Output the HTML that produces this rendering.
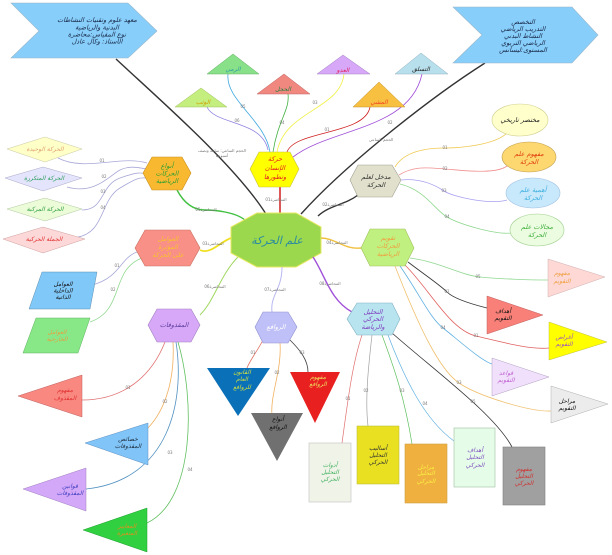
<!DOCTYPE html>
<html><head><meta charset="utf-8"><style>
html,body{margin:0;padding:0;background:#fff;}
svg{display:block}
text{font-family:"DejaVu Sans",sans-serif;font-style:italic;text-anchor:middle;direction:rtl}
.s{font-size:6px;letter-spacing:0.7px}
.m{font-size:6.5px;letter-spacing:0.6px}
.l{font-size:4px;fill:#777;font-style:normal}
.c{fill:none}
</style></head><body>
<svg width="612" height="555" viewBox="0 0 612 555" xmlns="http://www.w3.org/2000/svg">
<rect width="612" height="555" fill="#fff"/>

<!-- main long lines -->
<path class="c" d="M116,59 C160,100 235,165 266,214" stroke="#333" stroke-width="1.4"/>
<path class="c" d="M485,63 C430,98 345,165 301,214" stroke="#333" stroke-width="1.4"/>
<text class="l" x="222" y="152">الحجم الساعي: ساعة ونصف</text>
<text class="l" x="222" y="157">أسبوعيا</text>
<text class="l" x="381" y="141">الحجم الساعي</text>

<!-- chevrons -->
<polygon points="11,3 128,3 157,31 128,58 11,58 39,31" fill="#87cefa" stroke="#9ab8cc" stroke-width="0.6"/>
<text class="m" x="97" y="22" fill="#1a2a4a">معهد علوم وتقنيات النشاطات</text>
<text class="m" x="97" y="29.5" fill="#1a2a4a">البدنية والرياضية</text>
<text class="m" x="97" y="36.5" fill="#1a2a4a">نوع المقياس:محاضرة</text>
<text class="m" x="97" y="43.5" fill="#1a2a4a">الأستاذ: وكال عادل</text>

<polygon points="453,7 572,7 598,35 572,63 453,63 482,35" fill="#87cefa" stroke="#9ab8cc" stroke-width="0.6"/>
<text class="m" x="523" y="24" fill="#1a2a4a">التخصص</text>
<text class="m" x="523" y="31" fill="#1a2a4a">التدريب الرياضي</text>
<text class="m" x="523" y="38" fill="#1a2a4a">النشاط البدني</text>
<text class="m" x="523" y="45" fill="#1a2a4a">الرياضي التربوي</text>
<text class="m" x="523" y="52" fill="#1a2a4a">المستوى:ليسانس</text>

<!-- top connectors from yellow hexagon -->
<path class="c" d="M270,152 C265,120 225,100 228,74" stroke="#40a8e0" stroke-width="0.8"/>
<path class="c" d="M273,152 C278,120 290,110 288,94" stroke="#40b040" stroke-width="0.8"/>
<path class="c" d="M277,152 C285,110 340,110 344,74" stroke="#f0f040" stroke-width="0.8"/>
<path class="c" d="M268,150 C262,120 215,125 207,107" stroke="#9080e0" stroke-width="0.8"/>
<path class="c" d="M287,152 C295,130 365,135 370,107" stroke="#d02020" stroke-width="0.8"/>
<path class="c" d="M293,157 C330,128 410,130 422,74" stroke="#a050d8" stroke-width="0.8"/>
<text class="l" x="243" y="108">05</text>
<text class="l" x="282" y="124">04</text>
<text class="l" x="315" y="104">03</text>
<text class="l" x="237" y="122">06</text>
<text class="l" x="327" y="131">01</text>
<text class="l" x="390" y="124">02</text>

<!-- top triangles -->
<polygon points="201,88 175,107 227,107" fill="#c4ee7e" stroke="#a0c060" stroke-width="0.5"/>
<text class="s" x="203" y="104" fill="#d0a000">الوثب</text>
<polygon points="233,54 207,74 259,74" fill="#88e088" stroke="#60b060" stroke-width="0.5"/>
<text class="s" x="233" y="71" fill="#30a0a0">الرمي</text>
<polygon points="284,74 257,94 310,94" fill="#f08880" stroke="#c06060" stroke-width="0.5"/>
<text class="s" x="283" y="91" fill="#208040">الحجل</text>
<polygon points="343,55 317,74 370,74" fill="#d8a8f8" stroke="#a080c0" stroke-width="0.5"/>
<text class="s" x="343" y="72" fill="#e02060">العدو</text>
<polygon points="421,53 395,74 448,74" fill="#b8e0ec" stroke="#90b0c0" stroke-width="0.5"/>
<text class="s" x="421" y="71" fill="#222">التسلق</text>
<polygon points="379,82 353,107 405,107" fill="#f8c040" stroke="#c09030" stroke-width="0.5"/>
<text class="s" x="379" y="104" fill="#f04020">المشي</text>

<!-- yellow hexagon -->
<path class="c" d="M280,187 L280,213" stroke="#d02020" stroke-width="1.5"/>
<text class="l" x="276" y="201">المحاضرة01</text>
<polygon points="250,169 259,152 290,152 299,169 290,187 259,187" fill="#ffff00" stroke="#c8c040" stroke-width="0.6"/>
<text class="m" x="275" y="161" fill="#e02020">حركة</text>
<text class="m" x="275" y="170" fill="#e02020">الإنسان</text>
<text class="m" x="275" y="179" fill="#e02020">وتطورها</text>

<!-- beige hexagon and ellipses -->
<path class="c" d="M358,195 C345,205 330,205 318,216" stroke="#333" stroke-width="1.4"/>
<text class="l" x="333" y="206">المحاضرة02</text>
<path class="c" d="M395,167 C405,150 430,148 445,148 S495,145 507,133" stroke="#f0c850" stroke-width="0.8"/>
<path class="c" d="M399,175 C415,165 430,168 445,169 S495,175 507,166" stroke="#f09090" stroke-width="0.8"/>
<path class="c" d="M401,180 C420,178 435,185 444,191 S490,205 507,200" stroke="#a8a0f0" stroke-width="0.8"/>
<path class="c" d="M400,184 C425,190 435,210 447,217 S495,235 512,233" stroke="#90d890" stroke-width="0.8"/>
<text class="l" x="445" y="149">01</text>
<text class="l" x="445" y="170">02</text>
<text class="l" x="444" y="192">03</text>
<text class="l" x="447" y="218">04</text>
<polygon points="350,180 358,165 392,165 401,180 392,197 358,197" fill="#e0e0cc" stroke="#a0a090" stroke-width="0.6"/>
<text class="m" x="376" y="179" fill="#333">مدخل لعلم</text>
<text class="m" x="376" y="187" fill="#333">الحركة</text>

<ellipse cx="520" cy="120" rx="28" ry="16" fill="#ffffcc" stroke="#d0d090" stroke-width="0.6"/>
<text class="m" x="520" y="122" fill="#222">مختصر تاريخي</text>
<ellipse cx="529" cy="157" rx="27" ry="15" fill="#fdd870" stroke="#c0a050" stroke-width="0.6"/>
<text class="m" x="529" y="156" fill="#e04010">مفهوم علم</text>
<text class="m" x="529" y="164" fill="#e04010">الحركة</text>
<ellipse cx="533" cy="193" rx="27" ry="15" fill="#c8e8fc" stroke="#a0c0e0" stroke-width="0.6"/>
<text class="m" x="533" y="192" fill="#40b0e0">أهمية علم</text>
<text class="m" x="533" y="200" fill="#40b0e0">الحركة</text>
<ellipse cx="537" cy="230" rx="27" ry="16" fill="#ecfce0" stroke="#a0d090" stroke-width="0.6"/>
<text class="m" x="537" y="229" fill="#40b040">مجالات علم</text>
<text class="m" x="537" y="237" fill="#40b040">الحركة</text>

<!-- left diamonds -->
<path class="c" d="M58,158 C85,172 120,155 147,163" stroke="#a8a8d8" stroke-width="0.8"/>
<path class="c" d="M67,187 C95,195 110,175 120,170 S140,168 147,169" stroke="#a8a8d8" stroke-width="0.8"/>
<path class="c" d="M82,210 C105,210 100,185 120,178 S140,173 147,174" stroke="#a8a8d8" stroke-width="0.8"/>
<path class="c" d="M78,237 C105,232 100,200 120,188 S140,178 147,178" stroke="#a8a8d8" stroke-width="0.8"/>
<text class="l" x="102" y="162">01</text>
<text class="l" x="104" y="178">02</text>
<text class="l" x="103" y="193">03</text>
<text class="l" x="103" y="209">04</text>
<polygon points="7,149 45,137 82,149 45,162" fill="#ffffc8" stroke="#c8c8a0" stroke-width="0.5"/>
<text class="s" x="45" y="151" fill="#e0a070">الحركة الوحيدة</text>
<polygon points="5,178 43,167 82,178 43,191" fill="#e4e4fc" stroke="#a8a8c8" stroke-width="0.5"/>
<text class="s" x="44" y="180" fill="#30a060">الحركة المتكررة</text>
<polygon points="7,209 45,198 82,209 45,221" fill="#ecfcd8" stroke="#b0c8a0" stroke-width="0.5"/>
<text class="s" x="45" y="211" fill="#30a040">الحركة المركبة</text>
<polygon points="3,239 43,227 85,239 43,253" fill="#fdd8d8" stroke="#d0a0a0" stroke-width="0.5"/>
<text class="s" x="44" y="241" fill="#e03030">الجملة الحركية</text>

<!-- orange hexagon -->
<path class="c" d="M177,190 C185,205 195,210 205,210 S235,212 245,220" stroke="#40c040" stroke-width="1.4"/>
<text class="l" x="206" y="211">المحاضرة05</text>
<polygon points="143,173 152,157 182,157 191,173 182,190 152,190" fill="#f8b830" stroke="#c89020" stroke-width="0.6"/>
<text class="m" x="167" y="168" fill="#30a030">أنواع</text>
<text class="m" x="167" y="175.5" fill="#30a030">الحركات</text>
<text class="m" x="167" y="183" fill="#30a030">الرياضية</text>

<!-- salmon hexagon -->
<path class="c" d="M200,250 C210,255 220,242 231,238" stroke="#f0e020" stroke-width="1.8"/>
<text class="l" x="213" y="245">المحاضرة03</text>
<path class="c" d="M137,252 C120,258 120,278 92,285" stroke="#a8a8d8" stroke-width="0.8"/>
<path class="c" d="M142,258 C110,270 125,310 90,322" stroke="#90d890" stroke-width="0.8"/>
<text class="l" x="117" y="267">01</text>
<text class="l" x="113" y="291">02</text>
<polygon points="135,248 145,230 190,230 200,248 190,266 145,266" fill="#f89088" stroke="#c87060" stroke-width="0.6"/>
<text class="m" x="168" y="241" fill="#f8c030">العوامل</text>
<text class="m" x="168" y="249" fill="#f8c030">المؤثرة</text>
<text class="m" x="168" y="257" fill="#f8c030">على الحركة</text>

<!-- parallelograms -->
<polygon points="42,272 97,272 90,309 29,309" fill="#80c8f8" stroke="#6090b0" stroke-width="0.5"/>
<text class="s" x="63" y="286" fill="#111">العوامل</text>
<text class="s" x="63" y="292.5" fill="#111">الداخلية</text>
<text class="s" x="63" y="299" fill="#111">الذاتية</text>
<polygon points="36,318 90,318 78,353 23,353" fill="#88e888" stroke="#60b060" stroke-width="0.5"/>
<text class="s" x="57" y="334" fill="#e8a040">العوامل</text>
<text class="s" x="57" y="341" fill="#e8a040">الخارجية</text>

<!-- purple hexagon -->
<path class="c" d="M200,315 C215,300 220,275 238,257" stroke="#a0d860" stroke-width="1"/>
<text class="l" x="215" y="288">المحاضرة06</text>
<path class="c" d="M165,342 C150,380 120,400 82,400" stroke="#e07070" stroke-width="0.8"/>
<path class="c" d="M173,342 C175,380 165,410 148,428" stroke="#f0b060" stroke-width="0.8"/>
<path class="c" d="M176,342 C185,400 170,480 86,489" stroke="#5090c0" stroke-width="0.8"/>
<path class="c" d="M178,342 C195,400 195,500 147,523" stroke="#60c060" stroke-width="0.8"/>
<text class="l" x="128" y="389">01</text>
<text class="l" x="165" y="403">02</text>
<text class="l" x="170" y="454">03</text>
<text class="l" x="190" y="471">04</text>
<polygon points="148,325 157,309 191,309 200,325 191,342 157,342" fill="#d8a8f8" stroke="#a080c0" stroke-width="0.6"/>
<text class="m" x="174" y="327" fill="#6040a0">المقذوفات</text>

<polygon points="82,375 82,417 18,396" fill="#f88880" stroke="#c06060" stroke-width="0.5"/>
<text class="s" x="65" y="392" fill="#e03030">مفهوم</text>
<text class="s" x="65" y="400" fill="#e03030">المقذوف</text>
<polygon points="148,423 148,465 85,443" fill="#80c4f8" stroke="#6090c0" stroke-width="0.5"/>
<text class="s" x="128" y="441" fill="#203040">خصائص</text>
<text class="s" x="128" y="448" fill="#203040">المقذوفات</text>
<polygon points="86,468 86,511 23,489" fill="#d4a8f8" stroke="#a080c0" stroke-width="0.5"/>
<text class="s" x="70" y="488" fill="#4040c0">قوانين</text>
<text class="s" x="70" y="495" fill="#4040c0">المقذوفات</text>
<polygon points="147,508 147,552 83,530" fill="#30d040" stroke="#20a030" stroke-width="0.5"/>
<text class="s" x="127" y="528" fill="#e09020">المعايير</text>
<text class="s" x="127" y="535" fill="#e09020">المتغيرة</text>

<!-- center octagon -->
<polygon points="257,213 296,213 321,227 321,253 296,267 257,267 231,253 231,227" fill="#9bd84e" stroke="#e8e860" stroke-width="1"/>
<text x="277" y="244" font-size="11" fill="#2a8aa0" style="letter-spacing:1.2px">علم الحركة</text>

<!-- lavender hexagon (levers) -->
<path class="c" d="M282,267 C282,290 270,295 272,312" stroke="#b8b8f0" stroke-width="1"/>
<text class="l" x="275" y="291">المحاضرة07</text>
<path class="c" d="M263,340 C258,350 250,360 247,368" stroke="#e07060" stroke-width="0.8"/>
<path class="c" d="M280,343 C282,370 270,395 272,415" stroke="#f0b060" stroke-width="0.8"/>
<path class="c" d="M290,340 C300,350 308,360 308,372" stroke="#404040" stroke-width="0.8"/>
<text class="l" x="253" y="354">01</text>
<text class="l" x="277" y="374">02</text>
<text class="l" x="302" y="354">03</text>
<polygon points="255,327 263,312 288,312 297,327 288,343 263,343" fill="#c0c0f8" stroke="#9090d0" stroke-width="0.6"/>
<text class="m" x="276" y="329" fill="#fff">الروافع</text>

<polygon points="207,368 270,368 238,416" fill="#0a70b8"/>
<text class="s" x="242" y="374" fill="#d0e040">القانون</text>
<text class="s" x="242" y="381" fill="#d0e040">العام</text>
<text class="s" x="242" y="389" fill="#d0e040">للروافع</text>
<polygon points="251,413 303,413 277,461" fill="#707070"/>
<text class="s" x="278" y="421" fill="#111">أنواع</text>
<text class="s" x="278" y="429" fill="#111">الروافع</text>
<polygon points="290,372 340,372 315,423" fill="#e82020"/>
<text class="s" x="318" y="379" fill="#f0e060">مفهوم</text>
<text class="s" x="318" y="386" fill="#f0e060">الروافع</text>

<!-- analysis hexagon -->
<path class="c" d="M313,257 C325,275 330,300 352,312" stroke="#a050d8" stroke-width="1.4"/>
<text class="l" x="330" y="285">المحاضرة08</text>
<path class="c" d="M362,335 C352,365 348,400 342,443" stroke="#e07070" stroke-width="0.7"/>
<path class="c" d="M372,335 C368,370 365,400 368,426" stroke="#a0a0a0" stroke-width="0.7"/>
<path class="c" d="M382,335 C395,370 405,400 412,444" stroke="#60c060" stroke-width="0.7"/>
<path class="c" d="M388,335 C405,380 425,420 454,441" stroke="#60b0e0" stroke-width="0.7"/>
<path class="c" d="M392,333 C440,375 495,415 512,447" stroke="#333" stroke-width="0.8"/>
<text class="l" x="348" y="400">01</text>
<text class="l" x="366" y="392">02</text>
<text class="l" x="402" y="392">03</text>
<text class="l" x="425" y="405">04</text>
<text class="l" x="473" y="403">05</text>
<polygon points="347,319 357,303 392,303 400,319 392,335 357,335" fill="#b8e4f0" stroke="#80b0c0" stroke-width="0.6"/>
<text class="m" x="373" y="314" fill="#8040c0">التحليل</text>
<text class="m" x="373" y="321" fill="#8040c0">الحركي</text>
<text class="m" x="373" y="329" fill="#8040c0">والرياضة</text>

<rect x="309" y="443" width="42" height="59" fill="#f0f4e8" stroke="#c0c0c0" stroke-width="0.6"/>
<text class="s" x="330" y="467" fill="#40b060">أدوات</text>
<text class="s" x="330" y="474" fill="#40b060">التحليل</text>
<text class="s" x="330" y="481" fill="#40b060">الحركي</text>
<rect x="357" y="426" width="42" height="58" fill="#e8e020" stroke="#c0c040" stroke-width="0.6"/>
<text class="s" x="378" y="450" fill="#333">أساليب</text>
<text class="s" x="378" y="457" fill="#333">التحليل</text>
<text class="s" x="378" y="464" fill="#333">الحركي</text>
<rect x="405" y="444" width="42" height="59" fill="#f0b040" stroke="#d0a040" stroke-width="0.6"/>
<text class="s" x="426" y="469" fill="#f8f040">مراحل</text>
<text class="s" x="426" y="475" fill="#f8f040">التحليل</text>
<text class="s" x="426" y="483" fill="#f8f040">الحركي</text>
<rect x="454" y="428" width="41" height="59" fill="#e4fce8" stroke="#a0c0a0" stroke-width="0.6"/>
<text class="s" x="475" y="452" fill="#8050c0">أهداف</text>
<text class="s" x="475" y="459" fill="#8050c0">التحليل</text>
<text class="s" x="475" y="467" fill="#8050c0">الحركي</text>
<rect x="503" y="447" width="42" height="58" fill="#a0a0a0" stroke="#808080" stroke-width="0.6"/>
<text class="s" x="524" y="471" fill="#d03030">مفهوم</text>
<text class="s" x="524" y="478" fill="#d03030">التحليل</text>
<text class="s" x="524" y="485" fill="#d03030">الحركي</text>

<!-- evaluation hexagon -->
<path class="c" d="M321,238 C335,238 345,250 361,248" stroke="#f0c040" stroke-width="1.4"/>
<text class="l" x="337" y="244">المحاضرة04</text>
<path class="c" d="M410,258 C440,262 460,275 480,277 S530,280 548,280" stroke="#90d890" stroke-width="0.8"/>
<path class="c" d="M408,262 C425,275 440,285 447,292 S475,305 487,308" stroke="#333" stroke-width="0.8"/>
<path class="c" d="M405,265 C430,290 450,330 476,336 S530,350 549,348" stroke="#e06060" stroke-width="0.8"/>
<path class="c" d="M400,266 C420,295 430,318 443,328 S480,360 492,364" stroke="#60b0e0" stroke-width="0.8"/>
<path class="c" d="M395,266 C420,330 440,370 459,383 S530,412 551,411" stroke="#f0c070" stroke-width="0.8"/>
<text class="l" x="478" y="278">05</text>
<text class="l" x="447" y="293">02</text>
<text class="l" x="476" y="337">01</text>
<text class="l" x="443" y="329">04</text>
<text class="l" x="459" y="384">03</text>
<polygon points="361,248 370,229 405,229 414,248 405,266 370,266" fill="#c0f080" stroke="#a0c060" stroke-width="0.6"/>
<text class="m" x="388" y="240" fill="#f0a040">تقويم</text>
<text class="m" x="388" y="248" fill="#f0a040">الحركات</text>
<text class="m" x="388" y="256" fill="#f0a040">الرياضية</text>

<polygon points="548,259 548,297 605,277" fill="#fdd8d4" stroke="#d0b0b0" stroke-width="0.5"/>
<text class="s" x="562" y="275" fill="#f0a040">مفهوم</text>
<text class="s" x="562" y="283" fill="#f0a040">التقويم</text>
<polygon points="487,296 487,334 543,315" fill="#f88078" stroke="#c06060" stroke-width="0.5"/>
<text class="s" x="503" y="313" fill="#111">أهداف</text>
<text class="s" x="503" y="320" fill="#111">التقويم</text>
<polygon points="549,322 549,360 607,342" fill="#ffff00" stroke="#c0c040" stroke-width="0.5"/>
<text class="s" x="564" y="339" fill="#a050c0">أغراض</text>
<text class="s" x="564" y="346" fill="#a050c0">التقويم</text>
<polygon points="492,358 492,396 549,377" fill="#f0e0fc" stroke="#b0a0c0" stroke-width="0.5"/>
<text class="s" x="506" y="375" fill="#c060d0">قواعد</text>
<text class="s" x="506" y="382" fill="#c060d0">التقويم</text>
<polygon points="551,386 551,423 608,404" fill="#ececec" stroke="#b0b0b0" stroke-width="0.5"/>
<text class="s" x="567" y="403" fill="#111">مراحل</text>
<text class="s" x="567" y="410" fill="#111">التقويم</text>
</svg>
</body></html>
